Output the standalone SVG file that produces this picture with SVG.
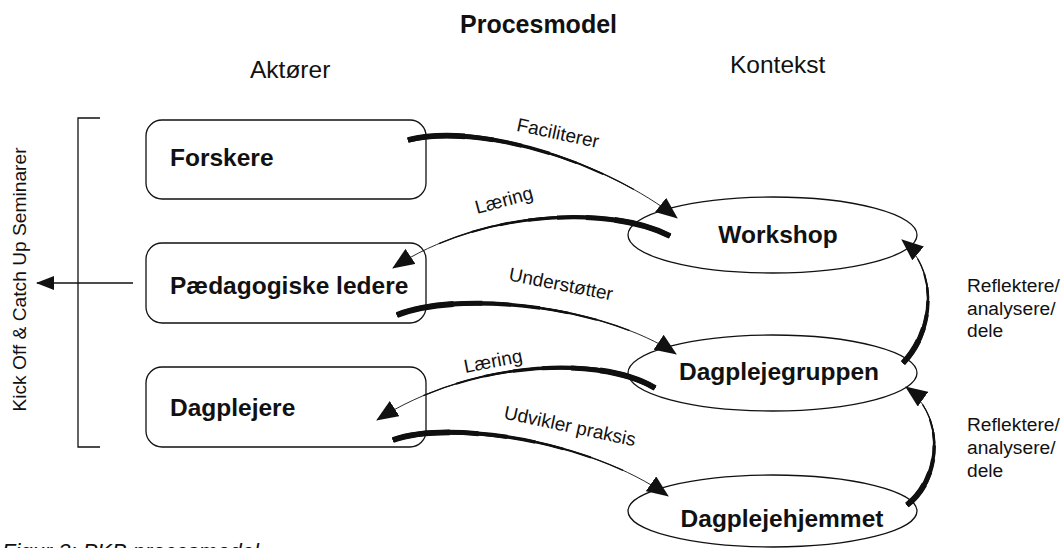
<svg xmlns="http://www.w3.org/2000/svg" width="1063" height="548" viewBox="0 0 1063 548">
  <style>
    text { font-family: "Liberation Sans", Arial, sans-serif; fill: #111; }
    .title { font-size: 25px; font-weight: bold; }
    .head { font-size: 24.5px; }
    .nl { font-size: 24.5px; font-weight: bold; }
    .lbl { font-size: 19px; }
    .side { font-size: 19.2px; }
    .cap { font-size: 22px; font-style: italic; }
    .box { fill: #fff; stroke: #111; stroke-width: 1.3; }
    .ell { fill: none; stroke: #111; stroke-width: 1.3; }
    .line { fill: none; stroke: #111; stroke-width: 1.3; }
    .conn use { fill: none; stroke: #111; stroke-linecap: butt; }
    .t1 { stroke-width: 5.8; stroke-dasharray: 20 200; }
    .t2 { stroke-width: 5; stroke-dasharray: 30 200; }
    .t3 { stroke-width: 4.2; stroke-dasharray: 40 200; }
    .t4 { stroke-width: 3.4; stroke-dasharray: 50 200; }
    .t5 { stroke-width: 2.6; stroke-dasharray: 60 200; }
    .t6 { stroke-width: 1.9; stroke-dasharray: 70 200; }
    .t7 { stroke-width: 1.3; stroke-dasharray: 82 200; }
    .t8 { stroke-width: 0.9; marker-end: url(#ah); }
  </style>
  <defs>
    <marker id="ah" markerUnits="userSpaceOnUse" markerWidth="22" markerHeight="18" viewBox="0 0 22 18" refX="21" refY="9" orient="auto">
      <path d="M0,0 L22,9 L0,18 z" fill="#111"/>
    </marker>
    <marker id="ahs" markerUnits="userSpaceOnUse" markerWidth="18" markerHeight="14" viewBox="0 0 18 14" refX="17" refY="7" orient="auto">
      <path d="M0,0 L18,7 L0,14 z" fill="#111"/>
    </marker>
    <!-- tapered connector centrelines, drawn start -> arrow tip -->
    <path id="c1" pathLength="100" d="M408,140 C480,122 608,163 677,218"/>
    <path id="c2" pathLength="100" d="M670,236 C610,205 480,210 393,268"/>
    <path id="c3" pathLength="100" d="M397,315 C460,290 605,306 676,354"/>
    <path id="c4" pathLength="100" d="M655,388 C600,355 470,360 377,420"/>
    <path id="c5" pathLength="100" d="M393,440 C450,420 590,440 668,496"/>
    <path id="c6" pathLength="100" d="M903,363 C935,330 938,270 902,240"/>
    <path id="c7" pathLength="100" d="M907,505 C942,478 945,415 906,387"/>
  </defs>

  <rect width="1063" height="548" fill="#fff"/>

  <!-- headings -->
  <text class="title" x="460" y="33">Procesmodel</text>
  <text class="head" x="250" y="78">Aktører</text>
  <text class="head" x="730" y="73">Kontekst</text>

  <!-- seminar bracket and side caption -->
  <g id="seminars">
    <path class="line" d="M100,118 H78 V447 H100"/>
    <path class="line" d="M133,283 H37" marker-end="url(#ahs)"/>
    <text class="side" transform="translate(26,279.5) rotate(-90)" text-anchor="middle">Kick Off &amp; Catch Up Seminarer</text>
  </g>

  <!-- actors -->
  <g id="forskere">
    <rect class="box" x="146" y="120" width="280" height="79" rx="16"/>
    <text class="nl" x="170" y="166">Forskere</text>
  </g>
  <g id="paedagogiske-ledere">
    <rect class="box" x="146" y="243" width="280" height="80" rx="16"/>
    <text class="nl" x="170" y="294">Pædagogiske ledere</text>
  </g>
  <g id="dagplejere">
    <rect class="box" x="146" y="367" width="280" height="80" rx="16"/>
    <text class="nl" x="170" y="416">Dagplejere</text>
  </g>

  <!-- contexts -->
  <g id="workshop">
    <ellipse class="ell" cx="772.5" cy="235" rx="144.5" ry="38"/>
    <text class="nl" x="778" y="243" text-anchor="middle">Workshop</text>
  </g>
  <g id="dagplejegruppen">
    <ellipse class="ell" cx="772.5" cy="373" rx="144.5" ry="38"/>
    <text class="nl" x="779" y="380" text-anchor="middle">Dagplejegruppen</text>
  </g>
  <g id="dagplejehjemmet">
    <ellipse class="ell" cx="772.5" cy="511" rx="144.5" ry="36"/>
    <text class="nl" x="782" y="527" text-anchor="middle">Dagplejehjemmet</text>
  </g>

  <!-- connectors: each drawn as stacked strokes so it tapers toward the arrowhead -->
  <g id="connectors" class="conn">
    <use href="#c1" class="t1"/><use href="#c1" class="t2"/><use href="#c1" class="t3"/><use href="#c1" class="t4"/>
    <use href="#c1" class="t5"/><use href="#c1" class="t6"/><use href="#c1" class="t7"/><use href="#c1" class="t8"/>
    <use href="#c2" class="t1"/><use href="#c2" class="t2"/><use href="#c2" class="t3"/><use href="#c2" class="t4"/>
    <use href="#c2" class="t5"/><use href="#c2" class="t6"/><use href="#c2" class="t7"/><use href="#c2" class="t8"/>
    <use href="#c3" class="t1"/><use href="#c3" class="t2"/><use href="#c3" class="t3"/><use href="#c3" class="t4"/>
    <use href="#c3" class="t5"/><use href="#c3" class="t6"/><use href="#c3" class="t7"/><use href="#c3" class="t8"/>
    <use href="#c4" class="t1"/><use href="#c4" class="t2"/><use href="#c4" class="t3"/><use href="#c4" class="t4"/>
    <use href="#c4" class="t5"/><use href="#c4" class="t6"/><use href="#c4" class="t7"/><use href="#c4" class="t8"/>
    <use href="#c5" class="t1"/><use href="#c5" class="t2"/><use href="#c5" class="t3"/><use href="#c5" class="t4"/>
    <use href="#c5" class="t5"/><use href="#c5" class="t6"/><use href="#c5" class="t7"/><use href="#c5" class="t8"/>
    <use href="#c6" class="t1"/><use href="#c6" class="t2"/><use href="#c6" class="t3"/><use href="#c6" class="t4"/>
    <use href="#c6" class="t5"/><use href="#c6" class="t6"/><use href="#c6" class="t7"/><use href="#c6" class="t8"/>
    <use href="#c7" class="t1"/><use href="#c7" class="t2"/><use href="#c7" class="t3"/><use href="#c7" class="t4"/>
    <use href="#c7" class="t5"/><use href="#c7" class="t6"/><use href="#c7" class="t7"/><use href="#c7" class="t8"/>

    <text class="lbl" transform="translate(558,133) rotate(12)" x="0" y="6.5" text-anchor="middle">Faciliterer</text>
    <text class="lbl" transform="translate(504,200) rotate(-15)" x="0" y="6.5" text-anchor="middle">Læring</text>
    <text class="lbl" transform="translate(561,284) rotate(11)" x="0" y="6.5" text-anchor="middle">Understøtter</text>
    <text class="lbl" transform="translate(493,361) rotate(-11)" x="0" y="6.5" text-anchor="middle">Læring</text>
    <text class="lbl" transform="translate(570,426) rotate(12)" x="0" y="6.5" text-anchor="middle">Udvikler praksis</text>

    <text class="side" x="967" y="292">Reflektere/</text>
    <text class="side" x="967" y="315">analysere/</text>
    <text class="side" x="967" y="337">dele</text>
    <text class="side" x="967" y="431">Reflektere/</text>
    <text class="side" x="967" y="454">analysere/</text>
    <text class="side" x="967" y="477">dele</text>
  </g>

  <!-- figure caption, running off the lower edge -->
  <text class="cap" x="2" y="559">Figur 3: PKB procesmodel</text>
</svg>
